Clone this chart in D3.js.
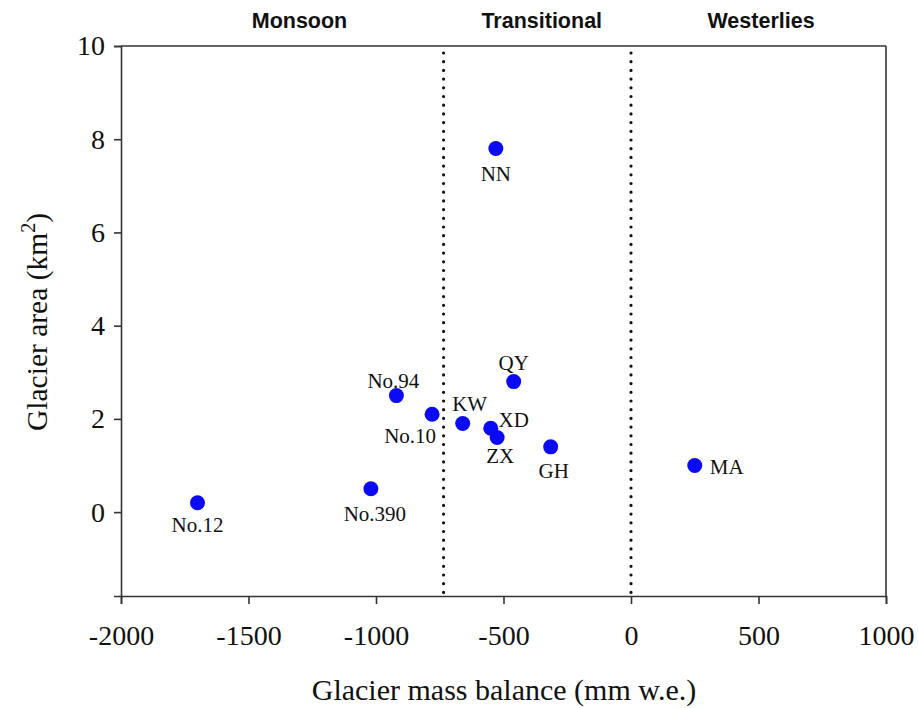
<!DOCTYPE html>
<html>
<head>
<meta charset="utf-8">
<script src="https://cdn.jsdelivr.net/npm/d3@7"></script>
<style>
    body { margin: 0; background: #fff; }
    svg { display: block; }
</style>
</head>
<body>
<svg id="chart"></svg>
<script>
'use strict';
// glacier names, mass balance (mm w.e.) and area (km2)
var glaciers = ['No.12', 'No.390', 'No.94', 'No.10', 'KW', 'XD', 'ZX', 'QY', 'GH', 'NN', 'MA'];
var massBalance = [-1700, -1020, -920, -780, -660, -550, -525, -460, -315, -530, 250];
var glacierArea = [0.2, 0.5, 2.5, 2.1, 1.9, 1.8, 1.6, 2.8, 1.4, 7.8, 1.0];

var xTicks = [-2000, -1500, -1000, -500, 0, 500, 1000];
var yTicks = [0, 2, 4, 6, 8, 10];

// climate regimes and the boundaries between them
var regionNames = ['Monsoon', 'Transitional', 'Westerlies'];
var regionLabelAt = [-1300, -350, 510];
var regionBounds = [-735, 0];

// label placement around each dot (pixels)
var labelOffset = {
    'No.12': [0, 29], 'No.390': [4, 32], 'No.94': [-3, -8], 'No.10': [-22, 29],
    'KW': [7, -13], 'XD': [23, -1], 'ZX': [3, 25], 'QY': [0, -12],
    'GH': [3, 31], 'NN': [0, 32], 'MA': [32, 9]
};

var canvasWidth = 918;
var canvasHeight = 708;
var margin = { top: 46, right: 32, bottom: 112, left: 121 };
var width = canvasWidth - margin.left - margin.right;
var height = canvasHeight - margin.top - margin.bottom;

var svg = d3.select('#chart')
    .attr('width', canvasWidth)
    .attr('height', canvasHeight);
var g = svg.append('g')
    .attr('transform', 'translate(' + margin.left + ',' + margin.top + ')');

var xScale = d3.scaleLinear().domain([-2000, 1000]).range([0, width]);
var yScale = d3.scaleLinear().domain([-1.8, 10]).range([height, 0]);

var serif = '"Liberation Serif", "Times New Roman", serif';
var axisColor = '#333';

// box: top and right edges
g.append('line').attr('x1', 0).attr('x2', width).attr('y1', 0).attr('y2', 0)
    .attr('stroke', axisColor).attr('stroke-width', 1.6);
g.append('line').attr('x1', width).attr('x2', width).attr('y1', 0).attr('y2', height)
    .attr('stroke', axisColor).attr('stroke-width', 1.6);

var xAxis = g.append('g')
    .attr('transform', 'translate(0,' + height + ')')
    .call(d3.axisBottom(xScale).tickValues(xTicks).tickSize(8).tickPadding(21).tickFormat(d3.format('d')));
var yAxis = g.append('g')
    .call(d3.axisLeft(yScale).tickValues(yTicks).tickSize(7).tickPadding(9));

[xAxis, yAxis].forEach(function (ax) {
    ax.select('.domain').attr('stroke', axisColor).attr('stroke-width', 1.6);
    ax.selectAll('.tick line').attr('stroke', axisColor).attr('stroke-width', 1.6);
    ax.selectAll('.tick text')
        .attr('fill', '#111')
        .style('font-family', serif)
        .style('font-size', '28px');
});
// d3 writes the minus as U+2212, the figure uses a hyphen
xAxis.selectAll('.tick text').text(function (d) { return String(d); });

// dotted region boundaries
g.selectAll('.bound')
    .data(regionBounds)
    .enter()
    .append('line')
    .attr('class', 'bound')
    .attr('x1', function (d) { return xScale(d); })
    .attr('x2', function (d) { return xScale(d); })
    .attr('y1', yScale(10) + 7)
    .attr('y2', height)
    .attr('stroke', '#111')
    .attr('stroke-width', 3.2)
    .attr('stroke-linecap', 'round')
    .attr('stroke-dasharray', '0 8.7');

// region headings
g.selectAll('.region')
    .data(regionNames)
    .enter()
    .append('text')
    .attr('class', 'region')
    .attr('x', function (d, i) { return xScale(regionLabelAt[i]); })
    .attr('y', -18)
    .attr('text-anchor', 'middle')
    .style('font-family', '"Liberation Sans", Arial, sans-serif')
    .style('font-weight', 'bold')
    .style('font-size', '21.5px')
    .attr('fill', '#111')
    .text(function (d) { return d; });

// points
g.selectAll('circle')
    .data(glaciers)
    .enter()
    .append('circle')
    .attr('cx', function (d, i) { return xScale(massBalance[i]); })
    .attr('cy', function (d, i) { return yScale(glacierArea[i]); })
    .attr('r', 7.5)
    .attr('fill', '#0a0af5');

g.selectAll('.plabel')
    .data(glaciers)
    .enter()
    .append('text')
    .attr('class', 'plabel')
    .attr('x', function (d, i) { return xScale(massBalance[i]) + labelOffset[d][0]; })
    .attr('y', function (d, i) { return yScale(glacierArea[i]) + labelOffset[d][1]; })
    .attr('text-anchor', 'middle')
    .style('font-family', serif)
    .style('font-size', '21px')
    .attr('fill', '#111')
    .text(function (d) { return d; });

// axis titles
svg.append('text')
    .attr('x', 504)
    .attr('y', 700)
    .attr('text-anchor', 'middle')
    .style('font-family', serif)
    .style('font-size', '30px')
    .attr('fill', '#111')
    .text('Glacier mass balance (mm w.e.)');

var yTitle = svg.append('text')
    .attr('transform', 'translate(47,' + 322 + ') rotate(-90)')
    .attr('text-anchor', 'middle')
    .style('font-family', serif)
    .style('font-size', '29.5px')
    .attr('fill', '#111');
yTitle.append('tspan').text('Glacier area (km');
yTitle.append('tspan').attr('dy', -12).style('font-size', '20px').text('2');
yTitle.append('tspan').attr('dy', 12).text(')');
</script>
</body>
</html>
